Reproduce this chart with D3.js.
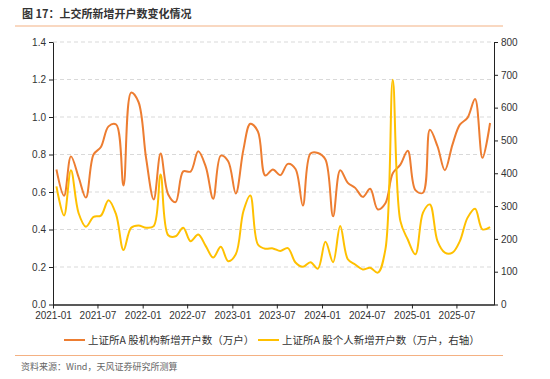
<!DOCTYPE html>
<html>
<head>
<meta charset="utf-8">
<script src="https://cdn.jsdelivr.net/npm/d3@7"></script>
<style>
  body { margin: 0; background: #fff; }
  svg text { font-family: "Liberation Sans", "Noto Sans CJK SC", sans-serif; }
</style>
</head>
<body>
<div id="chart"></div>
<script>
// monthly data, 2021-01 .. 2025-11
const startMonth = '2021-01';
const institution = [0.72, 0.58, 0.79, 0.68, 0.57, 0.80, 0.84, 0.95, 0.96, 0.635, 1.13, 1.08,
  0.78, 0.56, 0.805, 0.587, 0.546, 0.71, 0.709, 0.817, 0.734, 0.564, 0.794, 0.764,
  0.592, 0.826, 0.964, 0.923, 0.688, 0.72, 0.69, 0.75, 0.723, 0.528, 0.805, 0.808,
  0.773, 0.471, 0.716, 0.649, 0.622, 0.574, 0.617, 0.507, 0.54, 0.70, 0.746, 0.82,
  0.61, 0.596, 0.932, 0.844, 0.716, 0.853, 0.959, 0.995, 1.096, 0.782, 0.968];
const individual = [360, 271, 409, 279, 237, 267, 271, 318, 274, 166, 234, 241,
  234, 239, 396, 211, 208, 234, 193, 213, 178, 143, 176, 132,
  153, 284, 332, 183, 170, 171, 163, 172, 128, 115, 129, 109,
  191, 129, 239, 138, 122, 107, 112, 97, 168, 685, 254, 198,
  153, 280, 305, 193, 158, 158, 193, 264, 292, 229, 236];
const xTickLabels = ['2021-01', '2021-07', '2022-01', '2022-07', '2023-01', '2023-07',
  '2024-01', '2024-07', '2025-01', '2025-07'];
const leftTicks = [0, 0.2, 0.4, 0.6, 0.8, 1.0, 1.2, 1.4];
const rightTicks = [0, 100, 200, 300, 400, 500, 600, 700, 800];
const seriesNames = ['上证所A 股机构新增开户数（万户）', '上证所A 股个人新增开户数（万户，右轴）'];

const W = 550, H = 379;
const margin = { left: 53, right: 56, top: 42, bottom: 74 };
const orange = '#ED7D31', yellow = '#FFC000';

const parse = d3.timeParse('%Y-%m-%d');
const t0 = parse(startMonth + '-01');
const dates = institution.map((d, i) => d3.timeDay.offset(d3.timeMonth.offset(t0, i), 14));

const svg = d3.select('#chart').append('svg')
  .attr('width', W).attr('height', H);

// title
svg.append('text').attr('x', 22).attr('y', 18)
  .style('font-size', '11px').style('font-weight', 'bold').attr('fill', '#333')
  .style('font-family', '"Noto Sans CJK SC", sans-serif')
  .text('图 17：上交所新增开户数变化情况');
svg.append('line').attr('x1', 15).attr('x2', 503).attr('y1', 26).attr('y2', 26)
  .attr('stroke', '#F4B183').attr('stroke-width', 1.2);

const x = d3.scaleTime()
  .domain([t0, parse('2025-12-01')])
  .range([margin.left, W - margin.right]);
const yL = d3.scaleLinear().domain([0, 1.4]).range([H - margin.bottom - 0.5, margin.top]);
const yR = d3.scaleLinear().domain([0, 800]).range([H - margin.bottom - 0.5, margin.top]);

// grid
svg.append('g').selectAll('line')
  .data(leftTicks.filter(d => d > 0))
  .enter().append('line')
  .attr('x1', margin.left).attr('x2', W - margin.right)
  .attr('y1', d => yL(d)).attr('y2', d => yL(d))
  .attr('stroke', '#d9d9d9').attr('stroke-dasharray', '4,3');

const axisStyle = g => {
  g.select('.domain').attr('stroke', '#222');
  g.selectAll('.tick line').attr('stroke', '#222');
  g.selectAll('.tick text').attr('fill', '#333').style('font-size', '10px');
};

svg.append('g').attr('transform', `translate(${margin.left},0)`)
  .call(d3.axisLeft(yL).tickValues(leftTicks).tickFormat(d3.format('.1f')).tickSize(4).tickSizeOuter(0))
  .call(axisStyle);
svg.append('g').attr('transform', `translate(${W - margin.right},0)`)
  .call(d3.axisRight(yR).tickValues(rightTicks).tickSize(4).tickSizeOuter(0))
  .call(axisStyle);
svg.append('g').attr('transform', `translate(0,${H - margin.bottom - 0.5})`)
  .call(d3.axisBottom(x)
    .tickValues(xTickLabels.map(s => parse(s + '-01')))
    .tickFormat(d3.timeFormat('%Y-%m')).tickSize(4).tickSizeOuter(0))
  .call(axisStyle)
  .call(g => g.select('.domain').attr('stroke-width', 1.3));

// lines
const lineL = d3.line().x((d, i) => x(dates[i])).y(d => yL(d)).curve(d3.curveCatmullRom);
const lineR = d3.line().x((d, i) => x(dates[i])).y(d => yR(d)).curve(d3.curveCatmullRom);
svg.append('path').datum(institution).attr('d', lineL)
  .attr('fill', 'none').attr('stroke', orange).attr('stroke-width', 2);
svg.append('path').datum(individual).attr('d', lineR)
  .attr('fill', 'none').attr('stroke', yellow).attr('stroke-width', 2);

// legend
const legend = [
  { name: seriesNames[0], color: orange, x: 64 },
  { name: seriesNames[1], color: yellow, x: 258 }
];
const lg = svg.append('g').selectAll('g').data(legend).enter().append('g')
  .attr('transform', d => `translate(${d.x},340)`);
lg.append('line').attr('x1', 0).attr('x2', 21).attr('y1', 0).attr('y2', 0)
  .attr('stroke', d => d.color).attr('stroke-width', 2);
lg.append('text').attr('x', 24).attr('y', 4)
  .style('font-size', '10.5px').attr('fill', '#333')
  .style('font-family', '"Noto Sans CJK SC", sans-serif')
  .text(d => d.name);

// footer
svg.append('line').attr('x1', 15).attr('x2', 503).attr('y1', 355.5).attr('y2', 355.5)
  .attr('stroke', '#F4B183').attr('stroke-width', 1.2);
svg.append('text').attr('x', 21).attr('y', 370)
  .style('font-size', '9px').attr('fill', '#666')
  .style('font-family', '"Noto Sans CJK SC", sans-serif')
  .text('资料来源：Wind，天风证券研究所测算');
</script>
</body>
</html>
